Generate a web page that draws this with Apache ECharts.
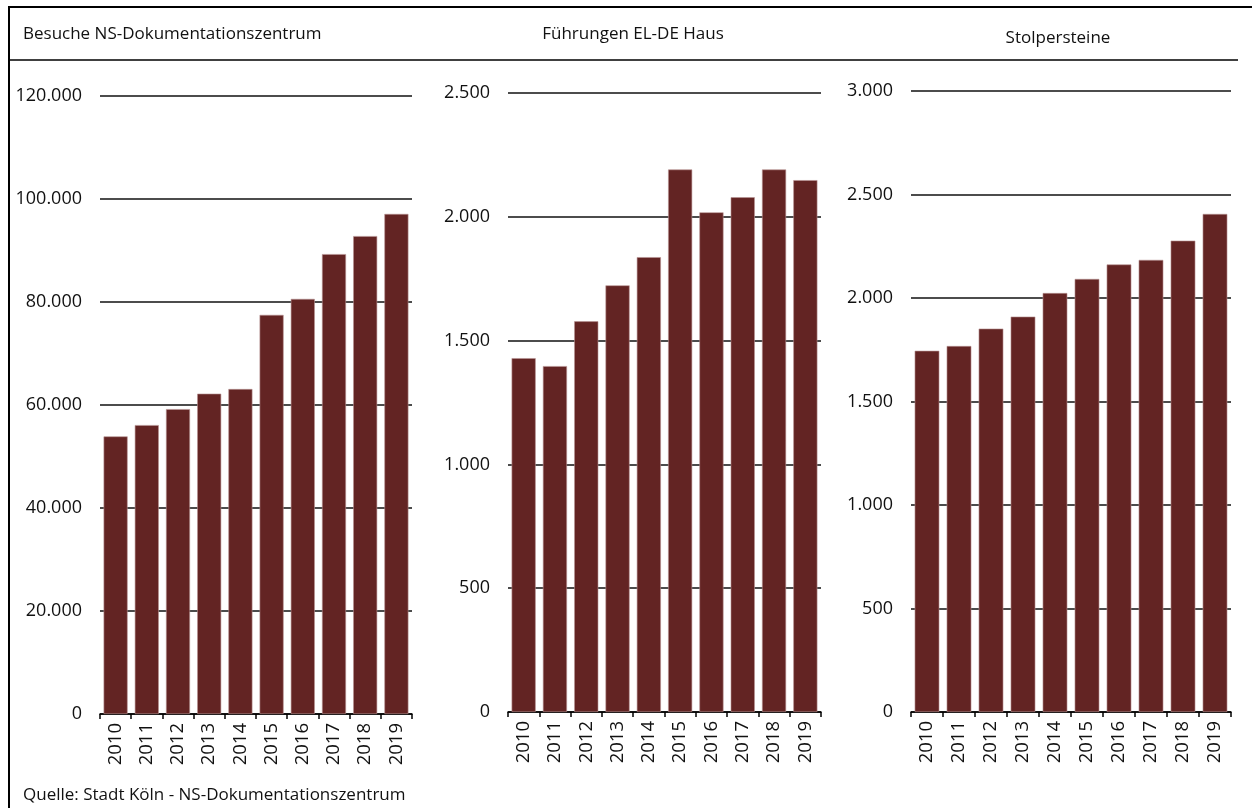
<!DOCTYPE html>
<html>
<head>
<meta charset="utf-8">
<script src="https://cdn.jsdelivr.net/npm/echarts@6/dist/echarts.min.js"></script>
<style>
html,body{margin:0;padding:0;background:#fff;}
#chart{width:1252px;height:808px;}
</style>
</head>
<body>
<div id="chart"></div>
<script>
const years = ['2010','2011','2012','2013','2014','2015','2016','2017','2018','2019'];
const besucheNS = [53900, 56100, 59200, 62200, 63100, 77500, 80600, 89300, 92800, 97100];
const fuehrungenELDE = [1429, 1397, 1578, 1723, 1837, 2191, 2018, 2079, 2191, 2148];
const stolpersteine = [1745, 1768, 1852, 1910, 2024, 2092, 2162, 2184, 2277, 2406];
const panelTitles = ['Besuche NS-Dokumentationszentrum', 'Führungen EL-DE Haus', 'Stolpersteine'];
const sourceText = 'Quelle: Stadt Köln - NS-Dokumentationszentrum';

const FONT = 'Open Sans';
const BAR = '#632423';
const fmt = v => String(v).replace(/\B(?=(\d{3})+(?!\d))/g, '.');

const grids = [
  {left: 100, width: 312, top: 96, height: 618},
  {left: 508, width: 313, top: 93, height: 619},
  {left: 911, width: 320, top: 91, height: 621}
];
const yCfg = [
  {max: 120000, interval: 20000},
  {max: 2500, interval: 500},
  {max: 3000, interval: 500}
];
const datasets = [besucheNS, fuehrungenELDE, stolpersteine];

const option = {
  animation: false,
  backgroundColor: '#fff',
  title: [
    {text: panelTitles[0], left: 18, top: 21, textStyle: {fontFamily: FONT, fontSize: 17, fontWeight: 'normal', color: '#111'}},
    {text: panelTitles[1], left: 628, textAlign: 'center', top: 21, textStyle: {fontFamily: FONT, fontSize: 17, fontWeight: 'normal', color: '#111'}},
    {text: panelTitles[2], left: 1053, textAlign: 'center', top: 25, textStyle: {fontFamily: FONT, fontSize: 17, fontWeight: 'normal', color: '#111'}},
    {text: sourceText, left: 18, top: 782, textStyle: {fontFamily: FONT, fontSize: 17, fontWeight: 'normal', color: '#111'}}
  ],
  graphic: [
    {type: 'line', shape: {x1: 9, y1: 7, x2: 1252, y2: 7}, style: {stroke: '#000', lineWidth: 2}},
    {type: 'line', shape: {x1: 9, y1: 6, x2: 9, y2: 808}, style: {stroke: '#000', lineWidth: 2}},
    {type: 'line', shape: {x1: 9, y1: 60, x2: 1238, y2: 60}, style: {stroke: '#000', lineWidth: 1.5}}
  ],
  grid: grids.map(g => Object.assign({containLabel: false}, g)),
  xAxis: grids.map((g, i) => ({
    type: 'category', gridIndex: i, data: years,
    axisLine: {show: true, lineStyle: {color: '#000', width: 1.5}},
    axisTick: {show: true, length: 5, lineStyle: {color: '#000', width: 1.5}},
    axisLabel: {rotate: 90, margin: 9, fontFamily: FONT, fontSize: 18.5, color: '#111'}
  })),
  yAxis: grids.map((g, i) => ({
    type: 'value', gridIndex: i, min: 0, max: yCfg[i].max, interval: yCfg[i].interval,
    axisLine: {show: false}, axisTick: {show: false},
    splitLine: {show: true, lineStyle: {color: '#111', width: 1.5}},
    axisLabel: {margin: 18, fontFamily: FONT, fontSize: 18, color: '#111', formatter: v => fmt(v)}
  })),
  series: datasets.map((d, i) => ({
    type: 'bar', xAxisIndex: i, yAxisIndex: i, data: d,
    barCategoryGap: '23%',
    itemStyle: {color: BAR, borderColor: '#b89494', borderWidth: 0.6}
  }))
};

const chart = echarts.init(document.getElementById('chart'), null, {renderer: 'canvas'});
chart.setOption(option);
</script>
</body>
</html>
